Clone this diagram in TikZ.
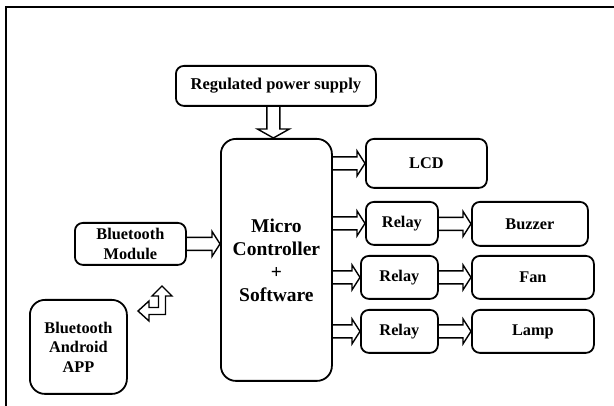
\documentclass[tikz,border=0pt]{standalone}
\usepackage{fontspec}
\setmainfont{Liberation Serif}
\usetikzlibrary{calc}
\newcommand\harr[3]{\draw[harrow] let \p1=(#1.east), \p2=(#2.west), \p3=(#3.center) in
  (\x1,\y3+6.5pt) -- (\x2-8pt,\y3+6.5pt) -- (\x2-8pt,\y3+12.5pt) -- (\x2,\y3)
  -- (\x2-8pt,\y3-12.5pt) -- (\x2-8pt,\y3-6.5pt) -- (\x1,\y3-6.5pt);}
\begin{document}
\begin{tikzpicture}[x=1pt,y=-1pt,
  blk/.style={draw, line width=1.8pt, rounded corners=8pt, inner sep=0pt,
    align=center, anchor=north west,
    font=\bfseries\fontsize{16.3}{20}\selectfont},
  harrow/.style={draw, line width=1.4pt, line join=miter},
]
\useasboundingbox (0,0) rectangle (614,406);
\draw[line width=2pt] (6,406) -- (6,7) -- (614,7);

\node[blk, minimum width=200pt, minimum height=40pt,
  font=\bfseries\fontsize{16.5}{20}\selectfont] (ps) at (175,65) {Regulated power supply};
\node[blk, minimum width=111pt, minimum height=242pt, rounded corners=15pt,
  font=\bfseries\fontsize{19.5}{23}\selectfont] (mc) at (220,138) {Micro\\Controller\\+\\Software};
\node[blk, minimum width=111pt, minimum height=42pt] (bm) at (74,222) {Bluetooth\\Module};
\node[blk, minimum width=97pt, minimum height=94pt, rounded corners=15pt,
  font=\bfseries\fontsize{16.3}{19.5}\selectfont] (app) at (29,299) {Bluetooth\\Android\\APP};
\node[blk, minimum width=121pt, minimum height=49pt] (lcd) at (365,138) {LCD};
\node[blk, minimum width=72pt, minimum height=43pt] (r1) at (365,201) {Relay};
\node[blk, minimum width=116pt, minimum height=44pt] (buz) at (471,201) {Buzzer};
\node[blk, minimum width=77pt, minimum height=43pt] (r2) at (360,255) {Relay};
\node[blk, minimum width=122pt, minimum height=43pt] (fan) at (471,255) {Fan};
\node[blk, minimum width=77pt, minimum height=43pt] (r3) at (360,309) {Relay};
\node[blk, minimum width=122pt, minimum height=43pt] (lamp) at (471,309) {Lamp};

% power arrow
\draw[harrow] let \p1=(ps.south), \p2=(mc.north) in
  (\x2-9.5pt,\y1) -- (\x2-9.5pt,\y2+9pt) -- (\x2-19pt,\y2+9pt) -- (\x2-3pt,\y2)
  -- (\x2+13pt,\y2+9pt) -- (\x2+3.5pt,\y2+9pt) -- (\x2+3.5pt,\y1);

\harr{bm}{mc}{bm}
\harr{mc}{lcd}{lcd}
\harr{mc}{r1}{r1}
\harr{mc}{r2}{r2}
\harr{mc}{r3}{r3}
\harr{r1}{buz}{buz}
\harr{r2}{fan}{fan}
\harr{r3}{lamp}{lamp}

% bent two-way arrow
\draw[harrow] (138,311) -- (149,301) -- (149,307.5) -- (158.5,307.5) -- (158.5,296)
  -- (152,296) -- (162,286) -- (172,296) -- (165.5,296) -- (165.5,314.5)
  -- (149,314.5) -- (149,321) -- cycle;
\end{tikzpicture}
\end{document}
